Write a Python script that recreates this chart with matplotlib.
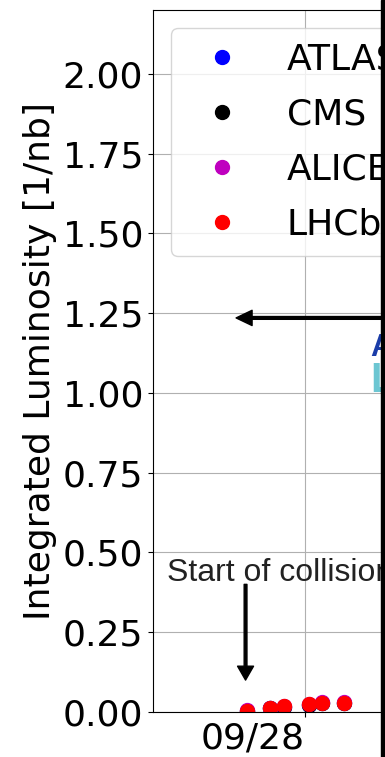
import pandas as pd
import matplotlib.pyplot as plt
import matplotlib.dates as mdates
from matplotlib.patches import Rectangle

# Delivered luminosity per experiment, first hours of collisions
times = pd.to_datetime([
    "2022-09-27 15:15", "2022-09-27 18:45", "2022-09-27 20:50",
    "2022-09-28 00:35", "2022-09-28 02:30", "2022-09-28 05:55",
])
atlas = [0.002, 0.012, 0.017, 0.023, 0.028, 0.028]
cms = [0.002, 0.012, 0.017, 0.023, 0.028, 0.028]
alice = [0.005, 0.014, 0.019, 0.025, 0.032, 0.032]
lhcb = [0.002, 0.013, 0.018, 0.024, 0.029, 0.029]

series = [("ATLAS", atlas, "b"), ("CMS", cms, "k"),
          ("ALICE", alice, "m"), ("LHCb", lhcb, "r")]

date_ticks = pd.to_datetime(["2022-09-28", "2022-09-30"])
y_ticks = [0, 0.25, 0.5, 0.75, 1.0, 1.25, 1.5, 1.75, 2.0]

start_time = pd.Timestamp("2022-09-27 15:05")
marker_time = pd.Timestamp("2022-09-27 13:40")
tail_time = pd.Timestamp("2022-09-29 00:00")
xmin = pd.Timestamp("2022-09-27 01:12")
xmax = xmin + pd.Timedelta(days=3.125)

plt.rcParams['font.size'] = 26

fig = plt.figure(figsize=(3.85, 7.57), dpi=100)
ax = fig.add_axes([153 / 385, 45 / 757, 500 / 385, 702 / 757])

for name, vals, col in series:
    ax.plot(times, vals, 'o', color=col, markersize=10, label=name)

ax.set_xlim(xmin, xmax)
ax.set_ylim(0, 2.2)
ax.set_yticks(y_ticks)
ax.yaxis.set_major_formatter(plt.FormatStrFormatter('%.2f'))
ax.set_xticks(date_ticks)
ax.xaxis.set_major_formatter(mdates.DateFormatter('%m/%d'))
for lbl in ax.get_xticklabels():
    lbl.set_ha('right')
ax.set_ylabel('Integrated Luminosity [1/nb]')
ax.grid(True)

ax.legend(loc='upper left', labelspacing=0.58)

# start-of-collisions marker
ax.annotate('', xy=(start_time, 0.10), xytext=(start_time, 0.40),
            arrowprops=dict(facecolor='black', edgecolor='black',
                            width=2, headwidth=11.5, headlength=10, shrink=0))
ax.text(pd.Timestamp("2022-09-27 03:20"), 0.41, 'Start of collisions',
        fontsize=23, family='Liberation Sans', color='#222222', va='baseline')

# pointer to the summary labels on the right
ax.annotate('', xy=(marker_time, 1.235), xytext=(tail_time, 1.235),
            arrowprops=dict(facecolor='black', edgecolor='black',
                            width=2, headwidth=11, headlength=11.5, shrink=0))
ax.text(pd.Timestamp("2022-09-28 09:45"), 1.141, 'ATLAS', color='#1a3ca8',
        fontsize=22, fontweight='bold', family='Liberation Sans', va='center')
ax.text(pd.Timestamp("2022-09-28 09:45"), 1.038, 'LHCb', color='#6cc6d2',
        fontsize=30, fontweight='bold', family='Liberation Sans', va='center')

fig.add_artist(Rectangle((381 / 385, 0), 4 / 385, 1, transform=fig.transFigure,
                         color='black'))

fig.savefig('out.png', dpi=100)
